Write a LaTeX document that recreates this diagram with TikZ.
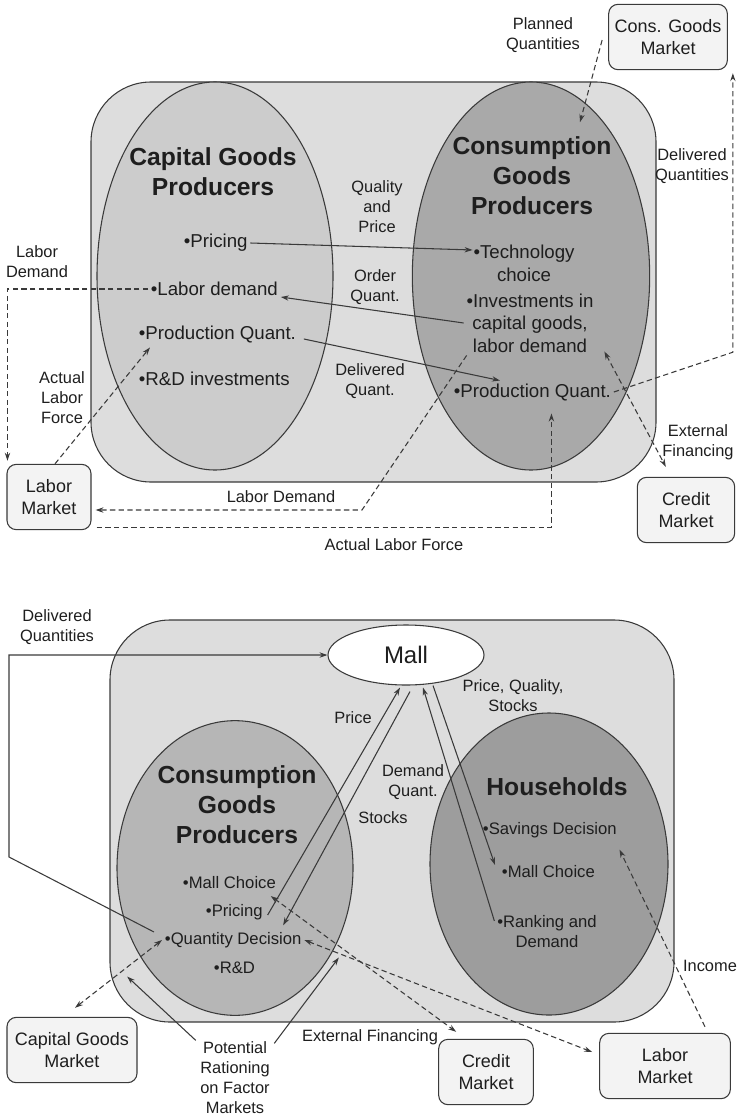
\documentclass[tikz,border=0pt]{standalone}
\usepackage{fontspec}
\setmainfont{Liberation Sans}
\usepackage{tikz}
\usetikzlibrary{arrows.meta,shapes.geometric,calc}
\definecolor{grispanel}{HTML}{DDDDDD}
\definecolor{grisclaro}{HTML}{CCCCCC}
\definecolor{grisoscuro}{HTML}{A9A9A9}
\definecolor{grismedio}{HTML}{B6B6B6}
\definecolor{grishogar}{HTML}{9D9D9D}
\definecolor{griscaja}{HTML}{F3F3F3}
\definecolor{grislinea}{HTML}{3A3A3A}
\definecolor{gristexto}{HTML}{1E1E1E}
\begin{document}
\begin{tikzpicture}[x=0.75pt, y=-0.75pt,
  every node/.style={text=gristexto},
  panel/.style={draw=grislinea, fill=grispanel, line width=0.8pt, rounded corners=45pt},
  blob/.style={ellipse, draw=grislinea, line width=0.8pt, inner sep=0pt},
  title/.style={font=\fontsize{18.5}{22.5}\selectfont\bfseries, align=center},
  item/.style={font=\fontsize{14}{17}\selectfont, align=center, inner sep=2pt},
  itemsm/.style={font=\fontsize{12.5}{15}\selectfont, align=center, inner sep=2pt},
  lbl/.style={font=\fontsize{12.3}{15}\selectfont, align=center, inner sep=1pt},
  market/.style={rectangle, draw=grislinea, fill=griscaja, rounded corners=7pt,
    align=center, line width=0.8pt, minimum height=49pt, inner sep=2pt,
    font=\fontsize{13.5}{16}\selectfont},
  flow/.style={draw=grislinea, line width=0.8pt, -{Stealth[length=6pt,width=4pt]}},
  dflow/.style={flow, dash pattern=on 4pt off 2.5pt},
  ddflow/.style={dflow, {Stealth[length=6pt,width=4pt]}-{Stealth[length=6pt,width=4pt]}}
]
\useasboundingbox (0,0) rectangle (739,1120);

% upper panel
\draw[panel] (91,82) rectangle (656,482);
\node[blob, fill=grisclaro, minimum width=177pt, minimum height=291pt] (cgTop) at (215,276) {};
\node[blob, fill=grisoscuro, minimum width=178pt, minimum height=291pt] (cpTop) at (531,276) {};
\node[title] (cgTitle) at (213,172) {Capital Goods\\Producers};
\node[title] (cpTitle) at (532,176) {Consumption\\Goods\\Producers};
\node[item, anchor=west] (cgPricing) at (181,243) {•Pricing};
\node[item, anchor=west] (cgLabor) at (148,289) {•Labor demand};
\node[item, anchor=west] (cgProd) at (136,334) {•Production Quant.};
\node[item, anchor=west] (cgRD) at (136,379) {•R\&D investments};
\node[item] (cpTech) at (524,263) {•Technology\\choice};
\node[item] (cpInvest) at (530,323) {•Investments in\\capital goods,\\labor demand};
\node[item, anchor=west] (cpProd) at (451,392) {•Production Quant.};
\node[lbl] (lblQP) at (377,207) {Quality\\and\\Price};
\node[lbl] (lblOrder) at (375,287) {Order\\Quant.};
\node[lbl] (lblDeliv) at (370,381) {Delivered\\Quant.};
\node[lbl] (lblLabDem) at (37,262) {Labor\\Demand};
\node[lbl] (lblActual) at (62,398) {Actual\\Labor\\Force};
\node[lbl] (lblLabDem2) at (281,497) {Labor Demand};
\node[lbl] (lblActual2) at (394,545) {Actual Labor Force};
\node[lbl] (lblPlanned) at (543,35) {Planned\\Quantities};
\node[lbl] (lblDelivQ) at (692,166) {Delivered\\Quantities};
\node[lbl] (lblExtFin) at (698,442) {External\\Financing};
\node[market, minimum width=63pt] (boxLaborT) at (49,497) {Labor\\Market};
\node[market, minimum width=89pt] (boxCGM) at (668,37) {Cons. Goods\\Market};
\node[market, minimum width=73pt] (boxCredT) at (686,510) {Credit\\Market};

\coordinate (ldBend) at (362,510);
\draw[flow] (cgPricing.east) -- ($(cpTech.west)+(2,-13)$);
\draw[flow] (cpInvest.west) -- ($(cgLabor.east)+(0,8)$);
\draw[flow] ($(cgProd.east)+(5,5)$) -- ($(cpProd.north west)+(49,0)$);
\draw[dflow] (cgLabor.west) -| ($(boxLaborT.north west)+(1,-3)$);
\draw[dflow] ($(boxLaborT.north)+(6,0)$) -- ($(cgProd.south west)+(14,2)$);
\draw[dflow] ($(cpInvest.south west)+(3,0)$) -- (ldBend) -- ($(ldBend -| boxLaborT.east)+(4,0)$);
\draw[dflow] ($(boxLaborT.south east)+(5,-3)$) -| ($(cpProd.south)+(19,10)$);
\draw[dflow] ($(boxCGM.west)+(-6,3)$) -- ($(cpTitle.north)+(48,-10)$);
\draw[dflow] (cpProd.east) -- ($(boxCGM.south east)+(5,282)$) -- ($(boxCGM.south east)+(5,3)$);
\draw[ddflow] ($(cpInvest.south east)+(8,-4)$) -- ($(boxCredT.north west)+(29,-10)$);

% lower panel
\draw[panel] (110,620) rectangle (674,1022);
\node[blob, fill=grismedio, minimum width=177pt, minimum height=221pt] (cpBot) at (235,868) {};
\node[blob, fill=grishogar, minimum width=178.5pt, minimum height=226.5pt] (hhBot) at (549,864) {};
\node[blob, fill=white, minimum width=117pt, minimum height=45pt,
  font=\fontsize{18}{20}\selectfont] (mall) at (406,655) {Mall};
\node[title] (cpBotTitle) at (237,805) {Consumption\\Goods\\Producers};
\node[title] (hhTitle) at (557,787) {Households};
\node[itemsm, anchor=west] (bMall) at (180,883) {•Mall Choice};
\node[itemsm, anchor=west] (bPricing) at (203,912) {•Pricing};
\node[itemsm, anchor=west] (bQty) at (162,940) {•Quantity Decision};
\node[itemsm, anchor=west] (bRD) at (211,968) {•R\&D};
\node[itemsm, anchor=west] (hSave) at (480,830) {•Savings Decision};
\node[itemsm, anchor=west] (hMall) at (499,872) {•Mall Choice};
\node[itemsm] (hRank) at (547,932) {•Ranking and\\Demand};
\node[lbl] (lblDelivB) at (57,627) {Delivered\\Quantities};
\node[lbl] (lblPrice) at (353,718) {Price};
\node[lbl] (lblStocks) at (383,818) {Stocks};
\node[lbl] (lblDemQ) at (413,782) {Demand\\Quant.};
\node[lbl] (lblPQS) at (513,696) {Price, Quality,\\Stocks};
\node[lbl] (lblIncome) at (710,966) {Income};
\node[lbl] (lblExtFinB) at (370,1037) {External Financing};
\node[lbl] (lblRation) at (235,1078) {Potential\\Rationing\\on Factor\\Markets};
\node[market, minimum width=97.5pt] (boxCapGM) at (72,1050) {Capital Goods\\Market};
\node[market, minimum width=71pt] (boxCredB) at (486,1072) {Credit\\Market};
\node[market, minimum width=98pt] (boxLabB) at (665,1066) {Labor\\Market};

\coordinate (dqBend) at (9,857);
\draw[flow] ($(bQty.west)+(-8,-8)$) -- (dqBend) |- (mall.west);
\draw[flow] ($(bPricing.east)+(2,3)$) -- ($(mall.south)+(-6,2)$);
\draw[flow] ($(mall.south)+(4,6)$) -- ($(bQty.north)+(50,-4)$);
\draw[flow] ($(hRank.north west)+(0,8)$) -- ($(mall.south)+(17,2)$);
\draw[flow] ($(mall.south)+(27,0)$) -- ($(hMall.west)+(-4,-7)$);
\draw[flow] ($(lblRation.north west)+(-3,0)$) -- ($(cpBot.south west)+(-24,4)$);
\draw[flow] ($(lblRation.north east)+(3,3)$) -- ($(cpBot.south east)+(20,-15)$);
\draw[ddflow] ($(boxCapGM.north)+(3,-9)$) -- (bQty.west);
\draw[ddflow] ($(bMall.south east)+(-8,4)$) -- ($(boxCredB.north west)+(18,-7)$);
\draw[ddflow] (bQty.east) -- ($(boxLabB.west)+(-7,-14)$);
\draw[dflow] ($(boxLabB.north)+(40,-6)$) -- ($(hSave.south east)+(0,9)$);
\end{tikzpicture}
\end{document}
